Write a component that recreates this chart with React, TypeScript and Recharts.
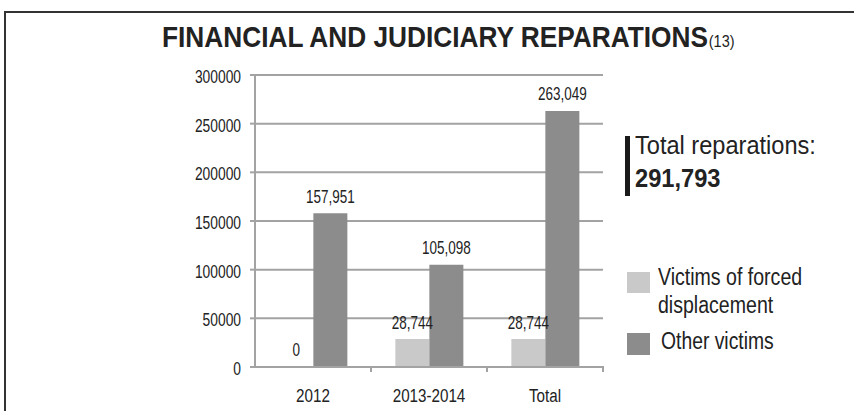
import React from "react";
import { BarChart, Bar, XAxis, YAxis, CartesianGrid, LabelList } from "recharts";

const categories = ["2012", "2013-2014", "Total"];
const forcedDisplacement = [0, 28744, 28744];
const otherVictims = [157951, 105098, 263049];
const yTicks = [0, 50000, 100000, 150000, 200000, 250000, 300000];
const totalReparations = 291793;

const chartData = categories.map((c, i) => ({
  name: c,
  forced: forcedDisplacement[i],
  other: otherVictims[i],
}));

// Liberation Sans squeezed horizontally to look like a narrow grotesque
const FONT = '"Liberation Sans", Arial, sans-serif';
const TEXT = "#222";
const LIGHT = "#c9c9c9";
const DARK = "#8c8c8c";
const GRID = "#a3a3a3";

const fmt = (v: any) => Number(v).toLocaleString("en-US");

const Narrow = ({ s, children, origin = "left" }: { s: number; children: any; origin?: string }) => (
  <span style={{ display: "inline-block", transform: `scaleX(${s})`, transformOrigin: origin, whiteSpace: "nowrap" }}>
    {children}
  </span>
);

const SvgText = ({ x, y, anchor, size, sx, children }: any) => (
  <text
    transform={`translate(${x},${y}) scale(${sx},1)`}
    textAnchor={anchor}
    fontSize={size}
    fill={TEXT}
    fontFamily={FONT}
  >
    {children}
  </text>
);

// category axis: label at the band centre, tick mark at the band's right edge
const XTick = (props: any) => {
  const { x, y, payload } = props;
  const half = payload?.offset ?? 0;
  return (
    <g>
      <line x1={x + half} x2={x + half} y1={y - 9} y2={y - 3} stroke={GRID} strokeWidth={2} />
      <SvgText x={x} y={y + 27} anchor="middle" size={19} sx={0.8}>
        {payload.value}
      </SvgText>
    </g>
  );
};

const YTick = (props: any) => {
  const { x, y, payload } = props;
  return (
    <SvgText x={x} y={y + 8} anchor="end" size={17.5} sx={0.79}>
      {payload.value}
    </SvgText>
  );
};

const BarValue = (props: any) => {
  const { x, y, width, value } = props;
  return (
    <SvgText x={x + width / 2} y={y - 10.5} anchor="middle" size={17.5} sx={0.77}>
      {fmt(value)}
    </SvgText>
  );
};

export default function App() {
  return (
    <div style={{ position: "absolute", left: 0, top: 0, width: 854, height: 411, overflow: "hidden", background: "#fff" }}>
      <div
        style={{
          position: "absolute",
          left: 4,
          top: 11,
          width: 920,
          height: 460,
          border: "2px solid #333",
        }}
      />
      <div
        style={{
          position: "absolute",
          left: 162,
          top: 19,
          fontFamily: FONT,
          fontWeight: "bold",
          fontSize: 30,
          lineHeight: "36px",
          color: TEXT,
        }}
      >
        <Narrow s={0.875}>
          FINANCIAL AND JUDICIARY REPARATIONS
          <span style={{ fontSize: 16.5, fontWeight: "normal", marginLeft: 1 }}>(13)</span>
        </Narrow>
      </div>
      <div
        style={{
          position: "absolute",
          left: 625,
          top: 136,
          width: 5,
          height: 60,
          background: "#1a1a1a",
        }}
      />
      <div style={{ position: "absolute", left: 635, top: 130, fontFamily: FONT, color: TEXT }}>
        <div style={{ fontSize: 26.5, lineHeight: "30px" }}>
          <Narrow s={0.89}>Total reparations:</Narrow>
        </div>
        <div style={{ fontSize: 26, lineHeight: "36px", fontWeight: "bold" }}>
          <Narrow s={0.91}>{fmt(totalReparations)}</Narrow>
        </div>
      </div>
      <div style={{ position: "absolute", left: 627, top: 272, width: 23, height: 21, background: LIGHT }} />
      <div style={{ position: "absolute", left: 627, top: 333, width: 23, height: 22, background: DARK }} />
      <div style={{ position: "absolute", left: 658, top: 264, fontFamily: FONT, color: TEXT, fontSize: 23, lineHeight: "27px" }}>
        <div><Narrow s={0.85}>Victims of forced</Narrow></div>
        <div style={{ marginTop: 1 }}><Narrow s={0.85}>displacement</Narrow></div>
      </div>
      <div style={{ position: "absolute", left: 661, top: 328, fontFamily: FONT, color: TEXT, fontSize: 23, lineHeight: "27px" }}>
        <Narrow s={0.84}>Other victims</Narrow>
      </div>
      <BarChart
        width={854}
        height={411}
        data={chartData}
        margin={{ top: 75, right: 251, bottom: 14, left: 0 }}
        barCategoryGap="21%"
        barGap={0}
        style={{ position: "absolute", left: 0, top: 0 }}
      >
        <CartesianGrid vertical={false} stroke={GRID} strokeWidth={2} />
        <XAxis
          dataKey="name"
          height={30}
          axisLine={{ stroke: GRID, strokeWidth: 2 }}
          tickLine={false}
          tick={<XTick />}
          interval={0}
        />
        <YAxis
          width={255}
          domain={[0, 300000]}
          ticks={yTicks}
          interval={0}
          axisLine={{ stroke: GRID, strokeWidth: 2 }}
          tickLine={{ stroke: GRID, strokeWidth: 2 }}
          tickSize={5}
          tickMargin={9}
          tick={<YTick />}
        />
        <Bar dataKey="forced" name="Victims of forced displacement" fill={LIGHT} minPointSize={0.01} isAnimationActive={false}>
          <LabelList dataKey="forced" content={<BarValue />} />
        </Bar>
        <Bar dataKey="other" name="Other victims" fill={DARK} isAnimationActive={false}>
          <LabelList dataKey="other" content={<BarValue />} />
        </Bar>
      </BarChart>
    </div>
  );
}
